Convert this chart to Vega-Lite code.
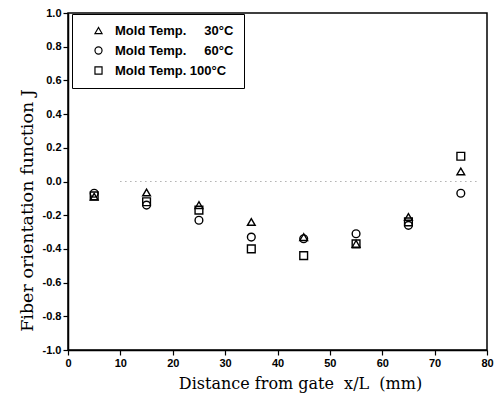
{
  "$schema": "https://vega.github.io/schema/vega-lite/v6.json",
  "width": 419,
  "height": 337,
  "autosize": {"type": "none"},
  "padding": {"left": 68, "top": 13, "right": 7, "bottom": 55},
  "background": "white",
  "config": {
    "view": {"stroke": "black", "strokeWidth": 1.5},
    "axis": {
      "labelFont": "Liberation Sans",
      "labelFontWeight": "bold",
      "labelFontSize": 11,
      "labelColor": "black",
      "labelOverlap": false,
      "labelBound": false,
      "labelFlush": false,
      "titleFont": "DejaVu Serif",
      "titleFontWeight": "normal",
      "titleFontSize": 16,
      "titleColor": "black",
      "domainColor": "black",
      "domainWidth": 1.5,
      "tickColor": "black",
      "tickSize": 5,
      "tickWidth": 1.2,
      "grid": false
    }
  },
  "datasets": {
    "pts": [
      {"x": 5, "J": -0.09, "temp": "Mold Temp. \u2007\u200730\u00b0C"},
      {"x": 15, "J": -0.065, "temp": "Mold Temp. \u2007\u200730\u00b0C"},
      {"x": 25, "J": -0.14, "temp": "Mold Temp. \u2007\u200730\u00b0C"},
      {"x": 35, "J": -0.24, "temp": "Mold Temp. \u2007\u200730\u00b0C"},
      {"x": 45, "J": -0.33, "temp": "Mold Temp. \u2007\u200730\u00b0C"},
      {"x": 55, "J": -0.37, "temp": "Mold Temp. \u2007\u200730\u00b0C"},
      {"x": 65, "J": -0.21, "temp": "Mold Temp. \u2007\u200730\u00b0C"},
      {"x": 75, "J": 0.06, "temp": "Mold Temp. \u2007\u200730\u00b0C"},
      {"x": 5, "J": -0.07, "temp": "Mold Temp. \u2007\u200760\u00b0C"},
      {"x": 15, "J": -0.14, "temp": "Mold Temp. \u2007\u200760\u00b0C"},
      {"x": 25, "J": -0.23, "temp": "Mold Temp. \u2007\u200760\u00b0C"},
      {"x": 35, "J": -0.33, "temp": "Mold Temp. \u2007\u200760\u00b0C"},
      {"x": 45, "J": -0.34, "temp": "Mold Temp. \u2007\u200760\u00b0C"},
      {"x": 55, "J": -0.31, "temp": "Mold Temp. \u2007\u200760\u00b0C"},
      {"x": 65, "J": -0.26, "temp": "Mold Temp. \u2007\u200760\u00b0C"},
      {"x": 75, "J": -0.07, "temp": "Mold Temp. \u2007\u200760\u00b0C"},
      {"x": 5, "J": -0.085, "temp": "Mold Temp. 100\u00b0C"},
      {"x": 15, "J": -0.12, "temp": "Mold Temp. 100\u00b0C"},
      {"x": 25, "J": -0.17, "temp": "Mold Temp. 100\u00b0C"},
      {"x": 35, "J": -0.40, "temp": "Mold Temp. 100\u00b0C"},
      {"x": 45, "J": -0.44, "temp": "Mold Temp. 100\u00b0C"},
      {"x": 55, "J": -0.37, "temp": "Mold Temp. 100\u00b0C"},
      {"x": 65, "J": -0.24, "temp": "Mold Temp. 100\u00b0C"},
      {"x": 75, "J": 0.15, "temp": "Mold Temp. 100\u00b0C"}
    ],
    "ref": [{"x": 10, "x2": 78, "J": 0}]
  },
  "layer": [
    {
      "data": {"name": "ref"},
      "mark": {"type": "rule", "color": "#888888", "strokeWidth": 1, "strokeDash": [1, 4]},
      "encoding": {
        "x": {"field": "x", "type": "quantitative"},
        "x2": {"field": "x2"},
        "y": {"field": "J", "type": "quantitative"}
      }
    },
    {
      "data": {"name": "pts"},
      "mark": {"type": "point", "filled": false, "color": "black", "strokeWidth": 1.4, "size": 60, "opacity": 1},
      "encoding": {
        "x": {
          "field": "x", "type": "quantitative",
          "scale": {"domain": [0, 80], "nice": false},
          "axis": {"values": [0, 10, 20, 30, 40, 50, 60, 70, 80], "tickCount": 9, "labelOverlap": false, "title": "Distance from gate \u00a0x/L \u00a0(mm)", "titlePadding": 7, "titleX": 232}
        },
        "y": {
          "field": "J", "type": "quantitative",
          "scale": {"domain": [-1, 1], "nice": false},
          "axis": {
            "values": [-1, -0.8, -0.6, -0.4, -0.2, 0, 0.2, 0.4, 0.6, 0.8, 1],
            "tickCount": 11,
            "labelOverlap": false,
            "labelExpr": "replace(format(datum.value, '.1f'), '\u2212', '-')",
            "title": "Fiber orientation function J",
            "titleFontSize": 17.5,
            "titlePadding": 6,
            "titleY": 197
          }
        },
        "shape": {
          "field": "temp", "type": "nominal",
          "sort": ["Mold Temp. \u2007\u200730\u00b0C", "Mold Temp. \u2007\u200760\u00b0C", "Mold Temp. 100\u00b0C"],
          "scale": {
            "domain": ["Mold Temp. \u2007\u200730\u00b0C", "Mold Temp. \u2007\u200760\u00b0C", "Mold Temp. 100\u00b0C"],
            "range": ["triangle-up", "circle", "square"]
          },
          "legend": {
            "title": null,
            "orient": "none",
            "legendX": 4,
            "legendY": 1,
            "strokeColor": "black",
            "fillColor": "white",
            "padding": 10,
            "symbolOffset": 10,
            "symbolSize": 50,
            "symbolStrokeColor": "black",
            "symbolStrokeWidth": 1.2,
            "symbolFillColor": "transparent",
            "labelFont": "Liberation Sans",
            "labelFontSize": 13,
            "labelFontWeight": "bold",
            "labelColor": "black",
            "labelOffset": 10,
            "rowPadding": 6,
            "labelLimit": 250
          }
        }
      }
    }
  ]
}
